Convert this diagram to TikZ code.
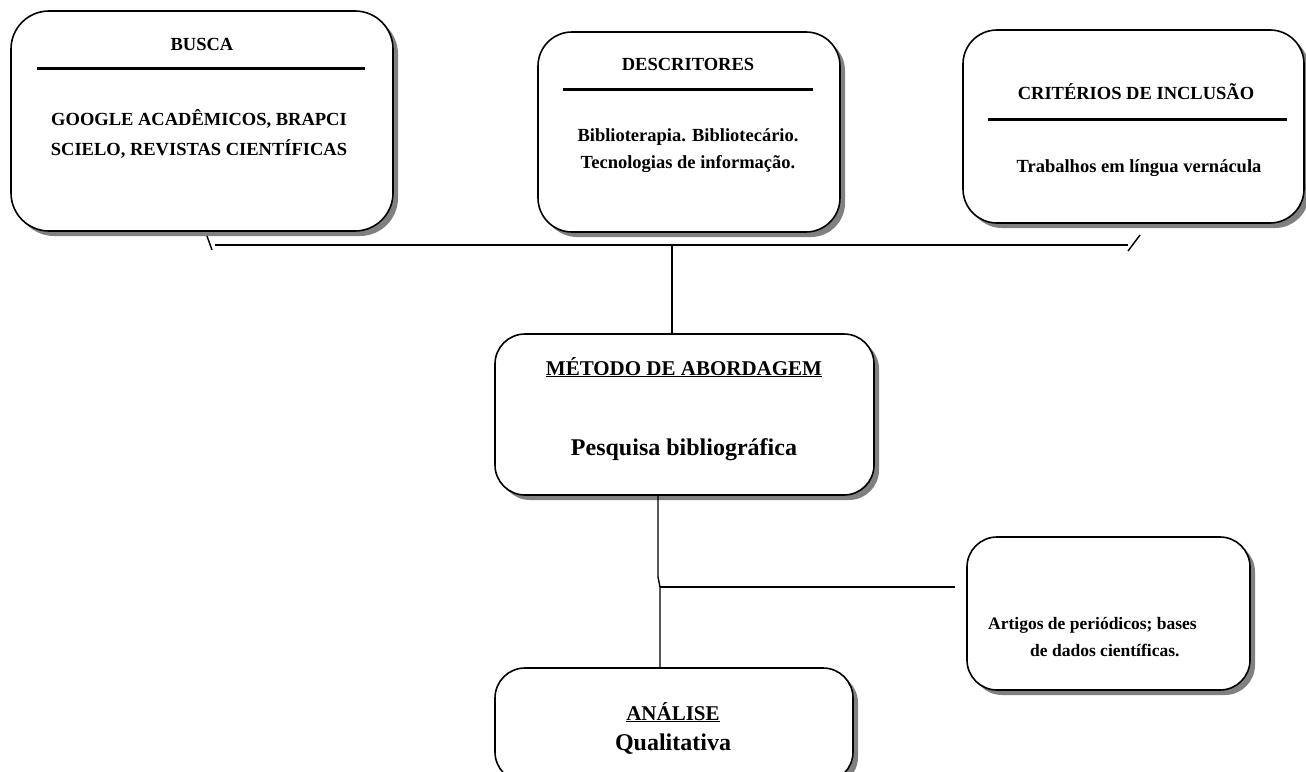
\documentclass[tikz,border=0pt]{standalone}
\usepackage{fontspec}
\setmainfont{Liberation Serif}
\usetikzlibrary{shadows,calc}
\begin{document}
\begin{tikzpicture}[x=1pt,y=-1pt,
  box/.style={draw, line width=1.6pt, rounded corners=34pt, fill=white,
    drop shadow={shadow xshift=5pt, shadow yshift=-5pt, fill=black!50, opacity=1},
    inner sep=0pt},
  txt/.style={font=\bfseries\fontsize{18.5}{22}\selectfont, anchor=base, inner sep=0pt},
  small/.style={font=\bfseries\fontsize{17.5}{21}\selectfont, anchor=base west, inner sep=0pt},
  head/.style={font=\bfseries\fontsize{21}{25}\selectfont, anchor=base, inner sep=0pt},
  big/.style={font=\bfseries\fontsize{24}{28}\selectfont, anchor=base, inner sep=0pt},
  rulebar/.style={line width=3pt},
  conn/.style={line width=1.4pt}]
\useasboundingbox (0,0) rectangle (1306,771);

% boxes
\node[box, minimum width=382pt, minimum height=220pt, rounded corners=38pt] (busca) at (202,121) {};
\node[box, minimum width=302pt, minimum height=200pt] (desc) at (689,132) {};
\node[box, minimum width=341pt, minimum height=193pt] (crit) at (1133.5,126.5) {};
\node[box, minimum width=379pt, minimum height=161pt, rounded corners=30pt] (metodo) at (684.5,414.5) {};
\node[box, minimum width=283pt, minimum height=153pt, rounded corners=30pt] (artigos) at (1108.5,613.5) {};
\node[box, minimum width=358pt, minimum height=114pt, rounded corners=30pt] (analise) at (674,725) {};

% BUSCA
\node[txt] (buscaT) at (202,50) {BUSCA};
\draw[rulebar] (37,68) -- (365,68);
\node[txt] (buscaL1) at (199,125) {GOOGLE ACADÊMICOS, BRAPCI};
\node[txt] (buscaL2) at (199,155) {SCIELO, REVISTAS CIENTÍFICAS};

% DESCRITORES
\node[txt] (descT) at (688,70) {DESCRITORES};
\draw[rulebar] (563,89) -- (813,89);
\node[txt] (descL1) at (688,141) {Biblioterapia. Bibliotecário.};
\node[txt] (descL2) at (688,168) {Tecnologias de informação.};

% CRITERIOS
\node[txt] (critT) at (1136,99) {CRITÉRIOS DE INCLUSÃO};
\draw[rulebar] (988,119) -- (1287,119);
\node[txt] (critL1) at (1139,172) {Trabalhos em língua vernácula};

% METODO
\node[head] (metT) at (684,375) {\underline{MÉTODO DE ABORDAGEM}};
\node[big] (metL1) at (684,455) {Pesquisa bibliográfica};

% ARTIGOS
\node[small] (artL1) at (988,629) {Artigos de periódicos; bases};
\node[small] (artL2) at (1030,656) {de dados científicas.};

% ANALISE
\node[head] (anaT) at (673,720) {\underline{ANÁLISE}};
\node[big] (anaL1) at (673,750) {Qualitativa};

% connectors
\coordinate (tlTop) at (207,236);
\coordinate (tlBot) at (212,250);
\coordinate (trTop) at (1140,235);
\coordinate (trBot) at (1128,251);
\coordinate (hl) at (215,245);
\coordinate (hr) at (1128,245);
\coordinate (hub) at (672,245);
\draw[conn] (tlTop) -- (tlBot);
\draw[conn] (trTop) -- (trBot);
\draw[conn] (hl) -- (hr);
\draw[conn] (hub) -- (hub |- metodo.north);

\coordinate (down) at (658,495);
\coordinate (jog) at (658,577);
\coordinate (branch) at (660,587);
\coordinate (branchEnd) at (955,587);
\draw[conn] (down) -- (jog) -- (branch) -- (branch |- analise.north);
\draw[conn] (branch) -- (branchEnd);
\end{tikzpicture}
\end{document}
